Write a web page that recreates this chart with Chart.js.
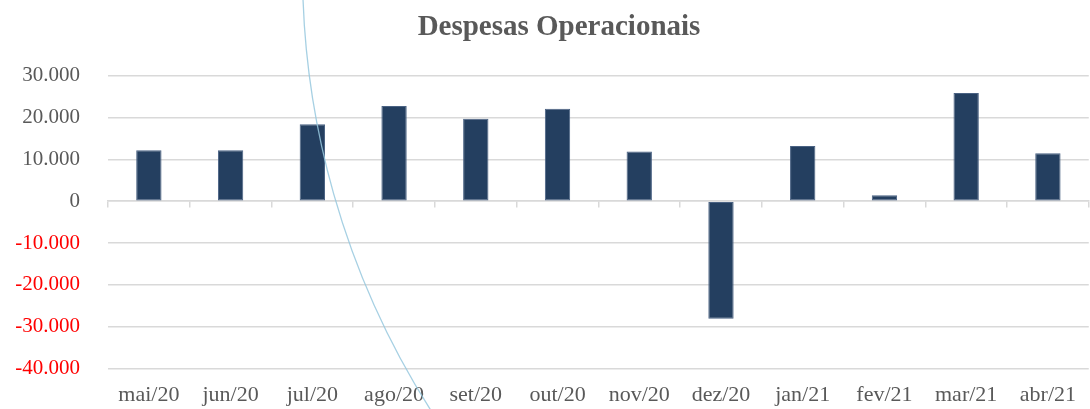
<!DOCTYPE html>
<html>
<head>
<meta charset="utf-8">
<style>
  html, body { margin: 0; padding: 0; background: #ffffff; }
  #wrap { width: 1090px; height: 409px; position: relative; }
</style>
<script src="https://cdn.jsdelivr.net/npm/chart.js@4/dist/chart.umd.min.js"></script>
</head>
<body>
<div id="wrap"><canvas id="c" width="1090" height="409"></canvas></div>
<script>
const titleText = "Despesas Operacionais";
const categories = ["mai/20", "jun/20", "jul/20", "ago/20", "set/20", "out/20", "nov/20", "dez/20", "jan/21", "fev/21", "mar/21", "abr/21"];
const despesas = [12200, 12200, 18400, 22800, 19700, 22100, 11900, -28100, 13200, 1400, 25900, 11500];
const yMin = -40000;
const yMax = 30000;
const yStep = 10000;

const serif = "'Liberation Serif', 'Times New Roman', serif";

function fmt(v) {
  const s = Math.abs(v).toString().replace(/\B(?=(\d{3})+(?!\d))/g, ".");
  return (v < 0 ? "-" : "") + s;
}

// shift the title's centre slightly right, as in the reference
const titleShift = {
  id: 'titleShift',
  afterLayout(chart) {
    if (chart.titleBlock) { chart.titleBlock.left += 18; }
  }
};

// decorative background arc seen in the reference image
const decoArc = {
  id: 'decoArc',
  afterDraw(chart) {
    const ctx = chart.ctx;
    ctx.save();
    ctx.strokeStyle = 'rgba(150,200,222,0.85)';
    ctx.lineWidth = 1.3;
    ctx.beginPath();
    ctx.arc(1122, -30, 819.5, Math.PI, Math.PI * 0.64, true);
    ctx.stroke();
    ctx.restore();
  }
};

new Chart(document.getElementById('c'), {
  type: 'bar',
  data: {
    labels: categories,
    datasets: [{
      label: titleText,
      data: despesas,
      backgroundColor: '#243F60',
      borderColor: '#4A6283',
      borderWidth: 1,
      borderSkipped: false,
      barPercentage: 0.31,
      categoryPercentage: 1.0
    }]
  },
  options: {
    responsive: false,
    animation: false,
    layout: { padding: { left: 10, right: 0, top: 8, bottom: 0 } },
    plugins: {
      legend: { display: false },
      tooltip: { enabled: false },
      title: {
        display: true,
        text: titleText,
        color: '#595959',
        font: { family: serif, size: 29, weight: 'bold' },
        padding: { top: 2, bottom: 31 }
      }
    },
    scales: {
      x: {
        position: 'bottom',
        afterFit(scale) { scale.height = 38; },
        grid: { display: false, drawTicks: false },
        border: { display: false },
        ticks: {
          color: '#595959',
          font: { family: serif, size: 22 },
          padding: 14,
          maxRotation: 0,
          autoSkip: false
        }
      },
      x2: {
        type: 'category',
        labels: categories,
        position: { y: 0 },
        offset: true,
        grid: {
          display: true,
          offset: true,
          drawOnChartArea: false,
          drawTicks: true,
          tickLength: 6,
          color: '#d9d9d9',
          lineWidth: 1.5
        },
        border: { display: true, color: '#d9d9d9', width: 1.5 },
        ticks: { display: false }
      },
      y: {
        min: yMin,
        max: yMax,
        afterFit(scale) { scale.width = 98; },
        ticks: {
          stepSize: yStep,
          padding: 28,
          font: { family: serif, size: 21 },
          color: (ctx) => (ctx.tick && ctx.tick.value < 0 ? '#FF0000' : '#595959'),
          callback: (v) => fmt(v)
        },
        grid: {
          color: '#d9d9d9',
          lineWidth: 1.5,
          drawTicks: false
        },
        border: { display: false }
      }
    }
  },
  plugins: [titleShift, decoArc]
});
</script>
</body>
</html>
